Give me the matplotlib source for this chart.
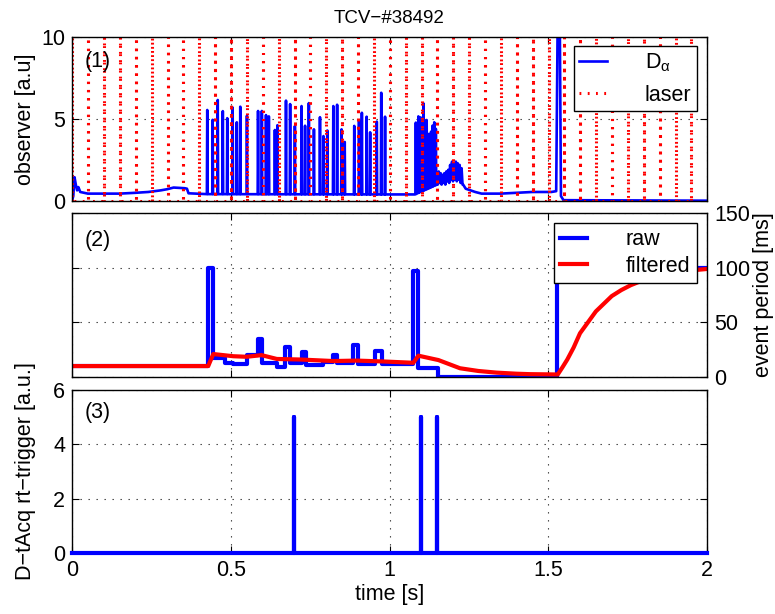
import numpy as np
import matplotlib
matplotlib.use('Agg')
import matplotlib.pyplot as plt

plt.rcParams['font.family'] = ['Liberation Sans', 'DejaVu Sans']
plt.rcParams['font.size'] = 15.5
plt.rcParams['mathtext.fontset'] = 'custom'
plt.rcParams['mathtext.rm'] = 'Liberation Sans'
plt.rcParams['mathtext.it'] = 'Liberation Sans'

# ---- panel (1): D-alpha baseline (s, a.u.)
t_base = [0.000, 0.004, 0.008, 0.012, 0.016, 0.020, 0.026, 0.05, 0.10, 0.15, 0.20, 0.24,
          0.28, 0.30, 0.32, 0.34, 0.355, 0.362, 0.367, 0.42, 0.99, 1.08, 1.149,
          1.232, 1.24, 1.255, 1.27, 1.29, 1.35, 1.40, 1.45, 1.51, 1.525,
          1.531, 1.536, 1.540, 1.548, 2.0]
v_base = [0.0, 0.3, 1.45, 1.0, 0.65, 0.85, 0.55, 0.45, 0.45, 0.45, 0.50, 0.55,
          0.65, 0.72, 0.82, 0.80, 0.78, 0.75, 0.47, 0.42, 0.40, 0.40, 1.0,
          1.0, 0.75, 0.65, 0.55, 0.45, 0.45, 0.50, 0.55, 0.55, 0.6,
          14.0, 12.0, 0.3, 0.05, 0.02]
# ELM spikes
elm_t = [0.426, 0.443, 0.459, 0.475, 0.489, 0.506, 0.519, 0.530, 0.551, 0.586, 0.598,
         0.611, 0.620, 0.639, 0.647, 0.674, 0.687, 0.702, 0.723, 0.734, 0.746, 0.762,
         0.781, 0.792, 0.804, 0.823, 0.835, 0.849, 0.859, 0.889, 0.904, 0.913, 0.928,
         0.939, 0.960, 0.974, 0.986, 1.083, 1.091, 1.098, 1.107, 1.117, 1.124, 1.131,
         1.136, 1.141, 1.146]
elm_h = [5.55, 4.95, 6.16, 5.48, 5.05, 5.70, 4.80, 5.75, 5.20, 5.49, 5.49,
         5.24, 5.16, 4.33, 4.62, 6.12, 5.91, 4.57, 5.79, 4.59, 5.97, 4.37,
         5.11, 3.96, 4.30, 5.79, 5.87, 4.37, 3.60, 4.58, 4.89, 5.38, 5.14,
         4.19, 4.84, 6.60, 5.14, 4.78, 5.16, 5.10, 5.95, 4.94, 4.09, 4.23,
         4.60, 4.80, 4.40]
# oscillating phase after the ELMs
osc_t = [1.152, 1.155, 1.158, 1.161, 1.164, 1.167, 1.170, 1.173, 1.176, 1.179, 1.182,
         1.185, 1.188, 1.191, 1.194, 1.197, 1.200, 1.203, 1.206, 1.209, 1.212, 1.215,
         1.218, 1.221, 1.224, 1.227, 1.230]
osc_v = [1.0, 1.8, 1.1, 1.7, 1.0, 1.6, 1.1, 1.7, 1.0, 1.8, 1.2,
         1.9, 1.1, 2.2, 1.3, 2.4, 1.2, 2.3, 1.3, 2.4, 1.2, 2.3,
         1.3, 2.2, 1.1, 2.0, 1.0]
# laser pulses
laser_t = [0.001, 0.051, 0.101, 0.151, 0.201, 0.251, 0.301, 0.351, 0.401, 0.451,
           0.501, 0.551, 0.601, 0.651, 0.701, 0.751, 0.801, 0.851, 0.901, 0.951,
           1.001, 1.051, 1.101, 1.151, 1.201, 1.251, 1.301, 1.351, 1.401, 1.451,
           1.501, 1.551, 1.601, 1.651, 1.701, 1.751, 1.801, 1.851, 1.901, 1.951]

# ---- panel (2): event period (ms)
raw_t = [0.0, 0.429, 0.445, 0.482, 0.508, 0.550, 0.587, 0.597, 0.645, 0.671, 0.687,
         0.723, 0.737, 0.79, 0.823, 0.834, 0.886, 0.902, 0.954, 0.975, 1.075, 1.091,
         1.154, 1.527, 2.0]
raw_v = [10, 100, 17, 13, 12, 20, 35, 13, 9, 27, 13,
         23, 11, 14, 20, 13, 29, 12, 24, 12, 97, 8,
         0, 100, 100]
filt_t = [0.0, 0.429, 0.445, 0.508, 0.550, 0.597, 0.645, 0.718, 0.823, 0.897, 0.981,
          1.075, 1.091, 1.138, 1.154, 1.222, 1.28, 1.337, 1.40, 1.442, 1.53,
          1.545, 1.56, 1.58, 1.60, 1.625, 1.65, 1.675, 1.70, 1.73, 1.76, 1.79,
          1.82, 1.85, 1.88, 1.91, 1.95, 2.0]
filt_v = [10, 10, 21, 19, 18.5, 20, 16.5, 16, 14.6, 15, 14.2,
          13, 19.5, 16.5, 15.5, 8, 5.5, 4, 3, 2.6, 2.3,
          9, 16, 27, 40, 50, 60, 67, 74, 79.5, 84, 87.5,
          90.5, 93, 94.8, 96.2, 97.5, 98.8]

# ---- panel (3): rt-trigger
trig_t = [0.699, 1.099, 1.150]
trig_h = [5, 5, 5]

xt = [0, 0.5, 1, 1.5, 2]
xtl = ['0', '0.5', '1', '1.5', '2']


def style(ax):
    ax.set_xlim(0, 2)
    ax.set_xticks(xt)
    ax.set_xticklabels(xtl)
    ax.tick_params(direction='in', top=True, right=True, length=5, width=0.8, pad=5)
    ax.grid(True, color='0.2', linestyle=(0, (1.2, 6)), linewidth=0.8)
    for s in ax.spines.values():
        s.set_linewidth(1.0)


fig = plt.figure(figsize=(7.75, 6.14), dpi=100)
L, W = 72 / 775, 635 / 775
ax1 = fig.add_axes([L, 1 - 201 / 614, W, 164 / 614])
ax2 = fig.add_axes([L, 1 - 377 / 614, W, 164 / 614])
ax3 = fig.add_axes([L, 1 - 553 / 614, W, 163 / 614])

# panel 1
pts = list(zip(t_base, v_base)) + list(zip(osc_t, osc_v))
for t, h in zip(elm_t, elm_h):
    b = np.interp(t, t_base, v_base)
    pts += [(t - 0.0012, b), (t, h), (t + 0.0012, b)]
pts.sort()
dx = [p[0] for p in pts]
dy = [p[1] for p in pts]
ax1.plot(dx, dy, color='b', lw=1.9, label=r'D$_{\mathrm{\alpha}}$')
lx, ly = [], []
for t in laser_t:
    lx += [t, t, t]
    ly += [0, 12, 0]
ax1.plot(lx, ly, color='r', lw=2.2, linestyle=(0, (0.6, 2.1)), label='laser')
style(ax1)
ax1.set_ylim(0, 10)
ax1.set_yticks([0, 5, 10])
ax1.tick_params(labelbottom=False)
ax1.set_ylabel('observer [a.u]')
ax1.yaxis.set_label_coords(-0.057, 0.5)
ax1.set_title('TCV\u2212#38492', fontsize=13.5, pad=10)
ax1.text(0.02, 0.85, '(1)', transform=ax1.transAxes, va='center')
ax1.legend(loc='upper right', bbox_to_anchor=(0.984, 0.945), borderaxespad=0,
           fancybox=False, framealpha=1, edgecolor='k', borderpad=0.25,
           handlelength=1.3, handletextpad=1.75, labelspacing=0.5)

# panel 2
ax2.plot(raw_t, raw_v, color='b', lw=3, drawstyle='steps-post', label='raw')
ax2.plot(filt_t, filt_v, color='r', lw=3, label='filtered')
style(ax2)
ax2.set_ylim(0, 150)
ax2.set_yticks([0, 50, 100, 150])
ax2.tick_params(labelbottom=False, labelleft=False, labelright=True)
ax2.yaxis.set_label_position('right')
ax2.set_ylabel('event period [ms]')
ax2.yaxis.set_label_coords(1.072, 0.5)
ax2.text(0.02, 0.835, '(2)', transform=ax2.transAxes, va='center')
ax2.legend(loc='upper right', bbox_to_anchor=(0.984, 0.941), borderaxespad=0,
           fancybox=False, framealpha=1, edgecolor='k', borderpad=0.3,
           handlelength=1.25, handletextpad=1.8, labelspacing=0.25)

# panel 3
tx, ty = [0.0], [0.0]
for t, h in zip(trig_t, trig_h):
    tx += [t - 0.0007, t - 0.0007, t + 0.0007, t + 0.0007]
    ty += [0, h, h, 0]
tx.append(2.0)
ty.append(0.0)
ax3.plot(tx, ty, color='b', lw=3, clip_on=False, zorder=3)
style(ax3)
ax3.set_ylim(0, 6)
ax3.set_yticks([0, 2, 4, 6])
ax3.set_xlabel('time [s]', labelpad=2)
ax3.set_ylabel('D\u2212tAcq rt\u2212trigger [a.u.]')
ax3.yaxis.set_label_coords(-0.057, 0.5)
ax3.text(0.02, 0.86, '(3)', transform=ax3.transAxes, va='center')

fig.savefig('out.png', dpi=100)
